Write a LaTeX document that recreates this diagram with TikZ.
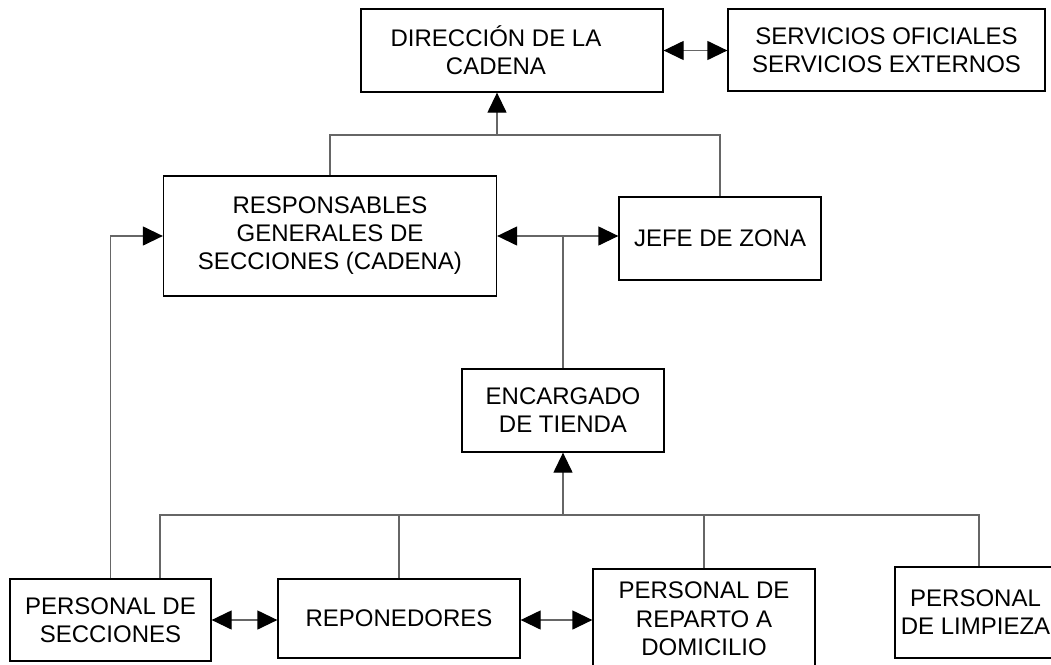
\documentclass[tikz,border=0pt]{standalone}
\usepackage{fontspec}
\setmainfont{Liberation Sans}
\usetikzlibrary{arrows.meta}
\tikzset{
  box/.style={draw=black, line width=1.3pt, rectangle, inner sep=0pt, align=center,
    font=\fontsize{24}{28}\selectfont},
  conn/.style={draw=black!60, line width=1.3pt},
  tipend/.style={-{Triangle[length=20pt,width=19pt,color=black]}},
  tipboth/.style={{Triangle[length=20pt,width=19pt,color=black]}-{Triangle[length=20pt,width=19pt,color=black]}},
}
\begin{document}
\begin{tikzpicture}[x=1pt,y=-1pt]
\useasboundingbox (0,0) rectangle (1051,664);
\clip (0,0) rectangle (1051,664);
\fill[white] (0,0) rectangle (1051,664);

% boxes
\node[box, minimum width=302pt, minimum height=83pt] (dir) at (512,50.5)
  {\hspace*{-32pt}DIRECCIÓN DE LA\\\hspace*{-32pt}CADENA};
\node[box, minimum width=317pt, minimum height=82pt] (serv) at (886.5,50)
  {SERVICIOS OFICIALES\\SERVICIOS EXTERNOS};
\node[box, minimum width=333pt, minimum height=120pt] (resp) at (330,236)
  {RESPONSABLES\\GENERALES DE\\SECCIONES (CADENA)};
\node[box, minimum width=202pt, minimum height=83pt] (jefe) at (720,238.5)
  {JEFE DE ZONA};
\node[box, minimum width=202pt, minimum height=83pt] (enc) at (563,410.5)
  {ENCARGADO\\DE TIENDA};
\node[box, minimum width=201pt, minimum height=82pt] (ps) at (110.5,620)
  {PERSONAL DE\\SECCIONES};
\node[box, minimum width=242pt, minimum height=79pt] (rep) at (399,618.5)
  {REPONEDORES};
\node[box, minimum width=222pt, minimum height=100pt, font=\fontsize{24}{28.5}\selectfont] (rd) at (704,619)
  {PERSONAL DE\\REPARTO A\\DOMICILIO};
\node[box, minimum width=176pt, minimum height=91pt] (lim) at (983,612.5)
  {\hspace*{-15pt}PERSONAL\\\hspace*{-15pt}DE LIMPIEZA};

% top connectors
\draw[conn, tipboth] (dir.east) -- (dir.east -| serv.west);
\coordinate (tb) at (497,135);
\draw[conn] (resp.north) |- (tb) -| (jefe.north);
\draw[conn, tipend] (tb) -- (tb |- dir.south);

% middle connectors
\draw[conn, tipboth] (resp.east) -- (resp.east -| jefe.west);
\draw[conn] (enc.north) -- (enc.north |- resp.east);
\draw[conn, tipend] (ps.north) |- (resp.west);

% bottom tree
\coordinate (bb) at (563,515);
\coordinate (bl) at (160,515);
\coordinate (br) at (979,515);
\draw[conn, tipend] (bb) -- (enc.south);
\draw[conn] (bl |- ps.north) -- (bl) -- (br) -- (br |- lim.north);
\draw[conn] (rep.north) -- (rep.north |- bl);
\draw[conn] (rd.north) -- (rd.north |- bl);

% bottom arrows
\draw[conn, tipboth] (ps.east) -- (ps.east -| rep.west);
\draw[conn, tipboth] (rep.east |- ps.east) -- (ps.east -| rd.west);
\end{tikzpicture}
\end{document}
